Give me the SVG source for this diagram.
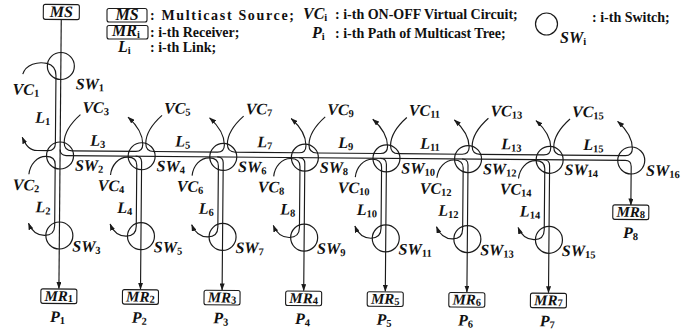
<svg xmlns="http://www.w3.org/2000/svg" width="690" height="329" viewBox="0 0 690 329">
<style>
.ln{fill:none;stroke:#1a1a1a;stroke-width:1.15}
.sw{fill:none;stroke:#1a1a1a;stroke-width:1.2}
.bx{fill:#fff;stroke:#1a1a1a;stroke-width:1.1}
.lb{font-family:"Liberation Serif","Times New Roman",serif;font-weight:bold;font-style:italic;font-size:16px;fill:#111}
.mr{font-size:15px}
.s{font-style:normal;font-size:10.5px}
.lg{font-family:"Liberation Serif","Times New Roman",serif;font-weight:bold;font-size:14px;fill:#111}
</style>
<defs>
<marker id="ah" markerWidth="7" markerHeight="5" refX="6.5" refY="2.5" orient="auto" markerUnits="userSpaceOnUse"><path d="M0,0 L7,2.5 L0,5 z" fill="#1a1a1a"/></marker>
</defs>
<rect width="690" height="329" fill="#fff"/>

<g id="legend">
<rect class="bx" x="107" y="8.5" width="40" height="13.5" rx="2"/>
<text class="lb" x="127" y="20" text-anchor="middle">MS</text>
<text class="lg" x="150" y="20" textLength="144" lengthAdjust="spacing">: Multicast Source;</text>
<rect class="bx" x="107" y="25.5" width="41" height="13.5" rx="2"/>
<text class="lb" x="126" y="36" text-anchor="middle">MR<tspan class="s" dy="2">i</tspan></text>
<text class="lg" x="150" y="37">: i-th Receiver;</text>
<text class="lb" x="118" y="52">L<tspan class="s" dy="2">i</tspan></text>
<text class="lg" x="150" y="52">: i-th Link;</text>
<text class="lb" x="303" y="19">VC<tspan class="s" dy="2">i</tspan></text>
<text class="lg" x="335" y="18.5">: i-th ON-OFF Virtual Circuit;</text>
<text class="lb" x="312" y="37.5">P<tspan class="s" dy="2">i</tspan></text>
<text class="lg" x="335" y="37.5">: i-th Path of Multicast Tree;</text>
<circle class="sw" cx="546.5" cy="24" r="11"/>
<text class="lb" x="560" y="43">SW<tspan class="s" dy="2">i</tspan></text>
<text class="lg" x="592" y="22">: i-th Switch;</text>
</g>

<g transform="rotate(0.5 345 165)">
<g id="connectors">
<path class="ln" marker-end="url(#ah)" d="M60,22 L60,291"/>
<path class="ln" marker-end="url(#ah)" d="M60,152 Q60,158 66,158 L625.2,158 Q631.2,158 631.2,164 L631.2,202.5"/>
<path class="ln" marker-end="url(#ah)" d="M135.6,158 Q141.6,158 141.6,164 L141.6,291"/>
<path class="ln" marker-end="url(#ah)" d="M217.2,158 Q223.2,158 223.2,164 L223.2,291"/>
<path class="ln" marker-end="url(#ah)" d="M298.8,158 Q304.8,158 304.8,164 L304.8,291"/>
<path class="ln" marker-end="url(#ah)" d="M380.4,158 Q386.4,158 386.4,164 L386.4,291"/>
<path class="ln" marker-end="url(#ah)" d="M462,158 Q468,158 468,164 L468,291"/>
<path class="ln" marker-end="url(#ah)" d="M543.6,158 Q549.6,158 549.6,164 L549.6,291"/>
<path class="ln" marker-end="url(#ah)" d="M22,77 C25,67 37,64 46,66 C52,67.5 55.2,71 55.2,78 L55.2,146 Q55.2,153.2 48,153.2 L37,153.2 C30,153.2 26,149 22,140"/>
<path class="ln" marker-end="url(#ah)" d="M80,117 C69,127 64,136 64,145 Q64,153.2 72,153.2 L135.6,153.2 Q142.6,153.2 142.6,146 C142.6,136 136.6,127 127.6,119"/>
<path class="ln" marker-end="url(#ah)" d="M161.6,117 C150.6,127 145.6,136 145.6,145 Q145.6,153.2 153.6,153.2 L217.2,153.2 Q224.2,153.2 224.2,146 C224.2,136 218.2,127 209.2,119"/>
<path class="ln" marker-end="url(#ah)" d="M243.2,117 C232.2,127 227.2,136 227.2,145 Q227.2,153.2 235.2,153.2 L298.8,153.2 Q305.8,153.2 305.8,146 C305.8,136 299.8,127 290.8,119"/>
<path class="ln" marker-end="url(#ah)" d="M324.8,117 C313.8,127 308.8,136 308.8,145 Q308.8,153.2 316.8,153.2 L380.4,153.2 Q387.4,153.2 387.4,146 C387.4,136 381.4,127 372.4,119"/>
<path class="ln" marker-end="url(#ah)" d="M406.4,117 C395.4,127 390.4,136 390.4,145 Q390.4,153.2 398.4,153.2 L462,153.2 Q469,153.2 469,146 C469,136 463,127 454,119"/>
<path class="ln" marker-end="url(#ah)" d="M488,117 C477,127 472,136 472,145 Q472,153.2 480,153.2 L543.6,153.2 Q550.6,153.2 550.6,146 C550.6,136 544.6,127 535.6,119"/>
<path class="ln" marker-end="url(#ah)" d="M569.6,117 C558.6,127 553.6,136 553.6,145 Q553.6,153.2 561.6,153.2 L625.2,153.2 Q632.2,153.2 632.2,146 C632.2,136 626.2,127 617.2,119"/>
<path class="ln" marker-end="url(#ah)" d="M29,177 C30,167 37,159 46,159 Q55.2,159 55.2,167 L55.2,228 C55.2,235 51,238 45,238 C37,238 32,233 29,226"/>
<path class="ln" marker-end="url(#ah)" d="M110.6,177 C111.6,167 118.6,159 127.6,159 Q136.8,159 136.8,167 L136.8,228 C136.8,235 132.6,238 126.6,238 C118.6,238 113.6,233 110.6,226"/>
<path class="ln" marker-end="url(#ah)" d="M192.2,177 C193.2,167 200.2,159 209.2,159 Q218.4,159 218.4,167 L218.4,228 C218.4,235 214.2,238 208.2,238 C200.2,238 195.2,233 192.2,226"/>
<path class="ln" marker-end="url(#ah)" d="M273.8,177 C274.8,167 281.8,159 290.8,159 Q300,159 300,167 L300,228 C300,235 295.8,238 289.8,238 C281.8,238 276.8,233 273.8,226"/>
<path class="ln" marker-end="url(#ah)" d="M355.4,177 C356.4,167 363.4,159 372.4,159 Q381.6,159 381.6,167 L381.6,228 C381.6,235 377.4,238 371.4,238 C363.4,238 358.4,233 355.4,226"/>
<path class="ln" marker-end="url(#ah)" d="M437,177 C438,167 445,159 454,159 Q463.2,159 463.2,167 L463.2,228 C463.2,235 459,238 453,238 C445,238 440,233 437,226"/>
<path class="ln" marker-end="url(#ah)" d="M518.6,177 C519.6,167 526.6,159 535.6,159 Q544.8,159 544.8,167 L544.8,228 C544.8,235 540.6,238 534.6,238 C526.6,238 521.6,233 518.6,226"/>
</g>

<g id="labels">
<text class="lb" x="12" y="97.5">VC<tspan class="s" dy="2">1</tspan></text>
<text class="lb" x="50" y="125.5" text-anchor="end">L<tspan class="s" dy="2">1</tspan></text>
<text class="lb" x="82" y="115">VC<tspan class="s" dy="2">3</tspan></text>
<text class="lb" x="163.6" y="115">VC<tspan class="s" dy="2">5</tspan></text>
<text class="lb" x="245.2" y="115">VC<tspan class="s" dy="2">7</tspan></text>
<text class="lb" x="326.8" y="115">VC<tspan class="s" dy="2">9</tspan></text>
<text class="lb" x="408.4" y="115">VC<tspan class="s" dy="2">11</tspan></text>
<text class="lb" x="490" y="115">VC<tspan class="s" dy="2">13</tspan></text>
<text class="lb" x="571.6" y="115">VC<tspan class="s" dy="2">15</tspan></text>
<text class="lb" x="90" y="148">L<tspan class="s" dy="2">3</tspan></text>
<text class="lb" x="175" y="148">L<tspan class="s" dy="2">5</tspan></text>
<text class="lb" x="257" y="148">L<tspan class="s" dy="2">7</tspan></text>
<text class="lb" x="338" y="148">L<tspan class="s" dy="2">9</tspan></text>
<text class="lb" x="420" y="148">L<tspan class="s" dy="2">11</tspan></text>
<text class="lb" x="501" y="148">L<tspan class="s" dy="2">13</tspan></text>
<text class="lb" x="583" y="148">L<tspan class="s" dy="2">15</tspan></text>
<text class="lb" x="13" y="193">VC<tspan class="s" dy="2">2</tspan></text>
<text class="lb" x="98" y="193">VC<tspan class="s" dy="2">4</tspan></text>
<text class="lb" x="177" y="193">VC<tspan class="s" dy="2">6</tspan></text>
<text class="lb" x="258" y="193">VC<tspan class="s" dy="2">8</tspan></text>
<text class="lb" x="338" y="193">VC<tspan class="s" dy="2">10</tspan></text>
<text class="lb" x="420" y="193">VC<tspan class="s" dy="2">12</tspan></text>
<text class="lb" x="500" y="193">VC<tspan class="s" dy="2">14</tspan></text>
<text class="lb" x="51" y="215" text-anchor="end">L<tspan class="s" dy="2">2</tspan></text>
<text class="lb" x="132.6" y="215" text-anchor="end">L<tspan class="s" dy="2">4</tspan></text>
<text class="lb" x="214.2" y="215" text-anchor="end">L<tspan class="s" dy="2">6</tspan></text>
<text class="lb" x="295.8" y="215" text-anchor="end">L<tspan class="s" dy="2">8</tspan></text>
<text class="lb" x="377.4" y="215" text-anchor="end">L<tspan class="s" dy="2">10</tspan></text>
<text class="lb" x="459" y="215" text-anchor="end">L<tspan class="s" dy="2">12</tspan></text>
<text class="lb" x="540.6" y="215" text-anchor="end">L<tspan class="s" dy="2">14</tspan></text>
</g>

<g id="MS"><rect class="bx" x="42" y="7" width="36" height="15" rx="2"/><text class="lb" x="60" y="19.5" text-anchor="middle">MS</text></g>
<g id="SW1"><circle class="sw" cx="60" cy="68.5" r="13.5"/><text class="lb" x="75" y="91.5">SW<tspan class="s" dy="2">1</tspan></text></g>
<g id="SW2"><circle class="sw" cx="60" cy="158" r="13.5"/><text class="lb" x="75" y="173">SW<tspan class="s" dy="2">2</tspan></text></g>
<g id="SW4"><circle class="sw" cx="141.6" cy="158" r="13.5"/><text class="lb" x="156.6" y="173">SW<tspan class="s" dy="2">4</tspan></text></g>
<g id="SW6"><circle class="sw" cx="223.2" cy="158" r="13.5"/><text class="lb" x="238.2" y="173">SW<tspan class="s" dy="2">6</tspan></text></g>
<g id="SW8"><circle class="sw" cx="304.8" cy="158" r="13.5"/><text class="lb" x="319.8" y="173">SW<tspan class="s" dy="2">8</tspan></text></g>
<g id="SW10"><circle class="sw" cx="386.4" cy="158" r="13.5"/><text class="lb" x="401.4" y="173">SW<tspan class="s" dy="2">10</tspan></text></g>
<g id="SW12"><circle class="sw" cx="468" cy="158" r="13.5"/><text class="lb" x="483" y="173">SW<tspan class="s" dy="2">12</tspan></text></g>
<g id="SW14"><circle class="sw" cx="549.6" cy="158" r="13.5"/><text class="lb" x="564.6" y="173">SW<tspan class="s" dy="2">14</tspan></text></g>
<g id="SW16"><circle class="sw" cx="631.2" cy="158" r="13.5"/><text class="lb" x="646.2" y="173">SW<tspan class="s" dy="2">16</tspan></text></g>
<g id="SW3"><circle class="sw" cx="60" cy="238" r="13.5"/><text class="lb" x="73" y="254">SW<tspan class="s" dy="2">3</tspan></text></g>
<g id="SW5"><circle class="sw" cx="141.6" cy="238" r="13.5"/><text class="lb" x="154.6" y="254">SW<tspan class="s" dy="2">5</tspan></text></g>
<g id="SW7"><circle class="sw" cx="223.2" cy="238" r="13.5"/><text class="lb" x="236.2" y="254">SW<tspan class="s" dy="2">7</tspan></text></g>
<g id="SW9"><circle class="sw" cx="304.8" cy="238" r="13.5"/><text class="lb" x="317.8" y="254">SW<tspan class="s" dy="2">9</tspan></text></g>
<g id="SW11"><circle class="sw" cx="386.4" cy="238" r="13.5"/><text class="lb" x="399.4" y="254">SW<tspan class="s" dy="2">11</tspan></text></g>
<g id="SW13"><circle class="sw" cx="468" cy="238" r="13.5"/><text class="lb" x="481" y="254">SW<tspan class="s" dy="2">13</tspan></text></g>
<g id="SW15"><circle class="sw" cx="549.6" cy="238" r="13.5"/><text class="lb" x="562.6" y="254">SW<tspan class="s" dy="2">15</tspan></text></g>

<g id="MR1"><rect class="bx" x="42" y="291.5" width="36" height="14.5" rx="2"/><text class="lb mr" x="60" y="303.5" text-anchor="middle">MR<tspan class="s" dy="1">1</tspan></text><text class="lb" x="59" y="324.5" text-anchor="middle">P<tspan class="s" dy="2">1</tspan></text></g>
<g id="MR2"><rect class="bx" x="123.6" y="291.5" width="36" height="14.5" rx="2"/><text class="lb mr" x="141.6" y="303.5" text-anchor="middle">MR<tspan class="s" dy="1">2</tspan></text><text class="lb" x="140.6" y="324.5" text-anchor="middle">P<tspan class="s" dy="2">2</tspan></text></g>
<g id="MR3"><rect class="bx" x="205.2" y="291.5" width="36" height="14.5" rx="2"/><text class="lb mr" x="223.2" y="303.5" text-anchor="middle">MR<tspan class="s" dy="1">3</tspan></text><text class="lb" x="222.2" y="324.5" text-anchor="middle">P<tspan class="s" dy="2">3</tspan></text></g>
<g id="MR4"><rect class="bx" x="286.8" y="291.5" width="36" height="14.5" rx="2"/><text class="lb mr" x="304.8" y="303.5" text-anchor="middle">MR<tspan class="s" dy="1">4</tspan></text><text class="lb" x="303.8" y="324.5" text-anchor="middle">P<tspan class="s" dy="2">4</tspan></text></g>
<g id="MR5"><rect class="bx" x="368.4" y="291.5" width="36" height="14.5" rx="2"/><text class="lb mr" x="386.4" y="303.5" text-anchor="middle">MR<tspan class="s" dy="1">5</tspan></text><text class="lb" x="385.4" y="324.5" text-anchor="middle">P<tspan class="s" dy="2">5</tspan></text></g>
<g id="MR6"><rect class="bx" x="450" y="291.5" width="36" height="14.5" rx="2"/><text class="lb mr" x="468" y="303.5" text-anchor="middle">MR<tspan class="s" dy="1">6</tspan></text><text class="lb" x="467" y="324.5" text-anchor="middle">P<tspan class="s" dy="2">6</tspan></text></g>
<g id="MR7"><rect class="bx" x="531.6" y="291.5" width="36" height="14.5" rx="2"/><text class="lb mr" x="549.6" y="303.5" text-anchor="middle">MR<tspan class="s" dy="1">7</tspan></text><text class="lb" x="548.6" y="324.5" text-anchor="middle">P<tspan class="s" dy="2">7</tspan></text></g>
<g id="MR8"><rect class="bx" x="613.2" y="202.5" width="36" height="14.5" rx="2"/><text class="lb mr" x="631.2" y="214.5" text-anchor="middle">MR<tspan class="s" dy="1">8</tspan></text><text class="lb" x="631.2" y="235.5" text-anchor="middle">P<tspan class="s" dy="2">8</tspan></text></g>
</g>
</svg>
